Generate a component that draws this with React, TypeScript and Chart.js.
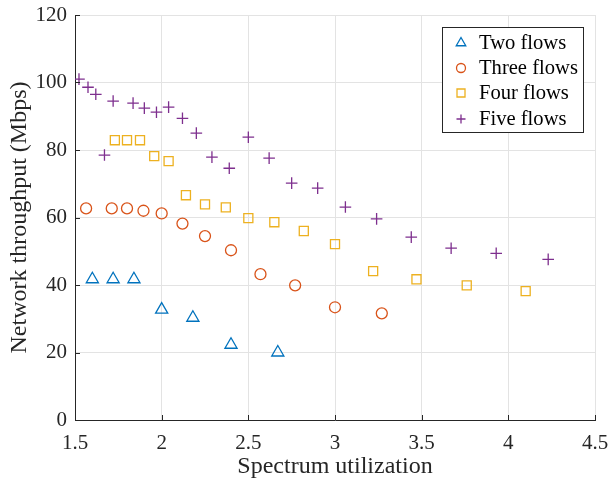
import React, { useEffect, useRef } from "react";
import { Chart, registerables } from "chart.js";
Chart.register(...registerables);

const seriesNames = ["Two flows", "Three flows", "Four flows", "Five flows"];
const seriesColors = ["#0072BD", "#D95319", "#EDB120", "#7E2F8E"];

const twoX = [1.6, 1.72, 1.84, 2.0, 2.18, 2.4, 2.67];
const twoY = [41.7, 41.7, 41.7, 32.7, 30.3, 22.3, 20.0];

const threeX = [1.564, 1.712, 1.8, 1.895, 2.0, 2.12, 2.25, 2.4, 2.57, 2.77, 3.0, 3.27];
const threeY = [62.7, 62.7, 62.7, 62.0, 61.2, 58.2, 54.5, 50.3, 43.2, 39.9, 33.4, 31.6];

const fourX = [1.73, 1.8, 1.875, 1.957, 2.04, 2.14, 2.25, 2.37, 2.5, 2.65, 2.82, 3.0, 3.22, 3.47, 3.76, 4.1];
const fourY = [82.9, 82.9, 82.9, 78.2, 76.7, 66.6, 63.9, 63.0, 59.8, 58.6, 56.0, 52.1, 44.1, 41.7, 39.9, 38.2];

const fiveX = [1.523, 1.575, 1.62, 1.67, 1.72, 1.835, 1.9, 1.97, 2.04, 2.12, 2.2, 2.29, 2.39, 2.5, 2.62, 2.75, 2.9, 3.06, 3.24, 3.44, 3.67, 3.93, 4.23];
const fiveY = [101.0, 98.6, 96.5, 78.5, 94.5, 93.9, 92.4, 91.2, 92.7, 89.4, 85.0, 77.9, 74.6, 83.8, 77.6, 70.2, 68.7, 63.1, 59.6, 54.2, 50.9, 49.4, 47.6];

const xTitle = "Spectrum utilization";
const yTitle = "Network throughput (Mbps)";

const FONT = "'Liberation Serif', 'Times New Roman', serif";

const pts = (xs: number[], ys: number[]) => xs.map((x, i) => ({ x, y: ys[i] }));

const markerStyles = ["triangle", "circle", "rect", "cross"] as const;
const markerRadius = [7, 5.5, 6.4, 5.8];

function drawMarker(ctx: CanvasRenderingContext2D, style: string, x: number, y: number, r: number) {
  ctx.beginPath();
  if (style === "triangle") {
    ctx.moveTo(x, y - r);
    ctx.lineTo(x + r * 0.866, y + r * 0.5);
    ctx.lineTo(x - r * 0.866, y + r * 0.5);
    ctx.closePath();
  } else if (style === "circle") {
    ctx.arc(x, y, r, 0, Math.PI * 2);
  } else if (style === "rect") {
    ctx.rect(x - r, y - r, 2 * r, 2 * r);
  } else {
    ctx.moveTo(x - r, y);
    ctx.lineTo(x + r, y);
    ctx.moveTo(x, y - r);
    ctx.lineTo(x, y + r);
  }
  ctx.stroke();
}

const decorPlugin = {
  id: "decor",
  afterDraw(chart: any) {
    const ctx = chart.ctx as CanvasRenderingContext2D;
    const { left, bottom } = chart.chartArea;
    const xs = chart.scales.x;
    const ys = chart.scales.y;
    ctx.save();
    // inward tick marks
    ctx.strokeStyle = "#262626";
    ctx.lineWidth = 1;
    ctx.beginPath();
    xs.ticks.forEach((t: any) => {
      const px = Math.round(xs.getPixelForValue(t.value)) + 0.5;
      ctx.moveTo(px, bottom);
      ctx.lineTo(px, bottom - 5);
    });
    ys.ticks.forEach((t: any) => {
      const py = Math.round(ys.getPixelForValue(t.value)) + 0.5;
      ctx.moveTo(left, py);
      ctx.lineTo(left + 5, py);
    });
    ctx.stroke();

    // legend box
    const bx = 442.5, by = 27.5, bw = 141, bh = 105;
    ctx.fillStyle = "#ffffff";
    ctx.fillRect(bx, by, bw, bh);
    ctx.strokeStyle = "#262626";
    ctx.strokeRect(bx, by, bw, bh);
    const rowsY = [43, 68, 93, 119];
    const legR = [5.5, 4.5, 4.0, 4.5];
    seriesNames.forEach((name, i) => {
      ctx.strokeStyle = seriesColors[i];
      ctx.lineWidth = 1.3;
      drawMarker(ctx, markerStyles[i], 461, rowsY[i], legR[i]);
      ctx.fillStyle = "#000000";
      ctx.font = `20.6px ${FONT}`;
      ctx.textBaseline = "middle";
      ctx.textAlign = "left";
      ctx.fillText(name, 479, rowsY[i] + 1);
    });
    ctx.restore();
  },
};

export default function App() {
  const ref = useRef<HTMLCanvasElement | null>(null);
  useEffect(() => {
    if (!ref.current) return;
    const datasets = [
      pts(twoX, twoY),
      pts(threeX, threeY),
      pts(fourX, fourY),
      pts(fiveX, fiveY),
    ].map((data, i) => ({
      label: seriesNames[i],
      data,
      pointStyle: markerStyles[i],
      pointRadius: markerRadius[i],
      pointHoverRadius: markerRadius[i],
      borderColor: seriesColors[i],
      backgroundColor: "rgba(0,0,0,0)",
      pointBorderWidth: 1.3,
      showLine: false,
    }));
    const chart = new Chart(ref.current, {
      type: "scatter",
      data: { datasets },
      options: {
        animation: false,
        responsive: true,
        maintainAspectRatio: false,
        layout: { padding: { top: 15, right: 15, left: 0, bottom: 0 } },
        plugins: { legend: { display: false }, tooltip: { enabled: false } },
        scales: {
          x: {
            type: "linear",
            min: 1.5,
            max: 4.5,
            ticks: {
              stepSize: 0.5,
              color: "#262626",
              font: { family: FONT, size: 21 },
              padding: 11,
              callback: (v: any) => `${v}`,
            },
            grid: { color: "#e3e3e3", tickLength: 0, drawTicks: false },
            border: { color: "#262626", width: 1 },
            title: { display: true, text: xTitle, color: "#262626", font: { family: FONT, size: 24 }, padding: { top: 0, bottom: 0 } },
            afterFit: (s: any) => { s.height = 61; s.paddingLeft = 0; s.paddingRight = 0; },
          },
          y: {
            type: "linear",
            min: 0,
            max: 120,
            ticks: { stepSize: 20, color: "#262626", font: { family: FONT, size: 21 }, padding: 8 },
            grid: { color: "#e3e3e3", tickLength: 0, drawTicks: false },
            border: { color: "#262626", width: 1 },
            title: { display: true, text: yTitle, color: "#262626", font: { family: FONT, size: 24 }, padding: { top: 5, bottom: 0 } },
            afterFit: (s: any) => { s.width = 75; s.paddingTop = 0; s.paddingBottom = 0; },
          },
        },
      },
      plugins: [decorPlugin],
    });
    return () => chart.destroy();
  }, []);
  return (
    <div style={{ position: "fixed", left: 0, top: 0, width: 610, height: 481, background: "#fff" }}>
      <canvas ref={ref} />
    </div>
  );
}
